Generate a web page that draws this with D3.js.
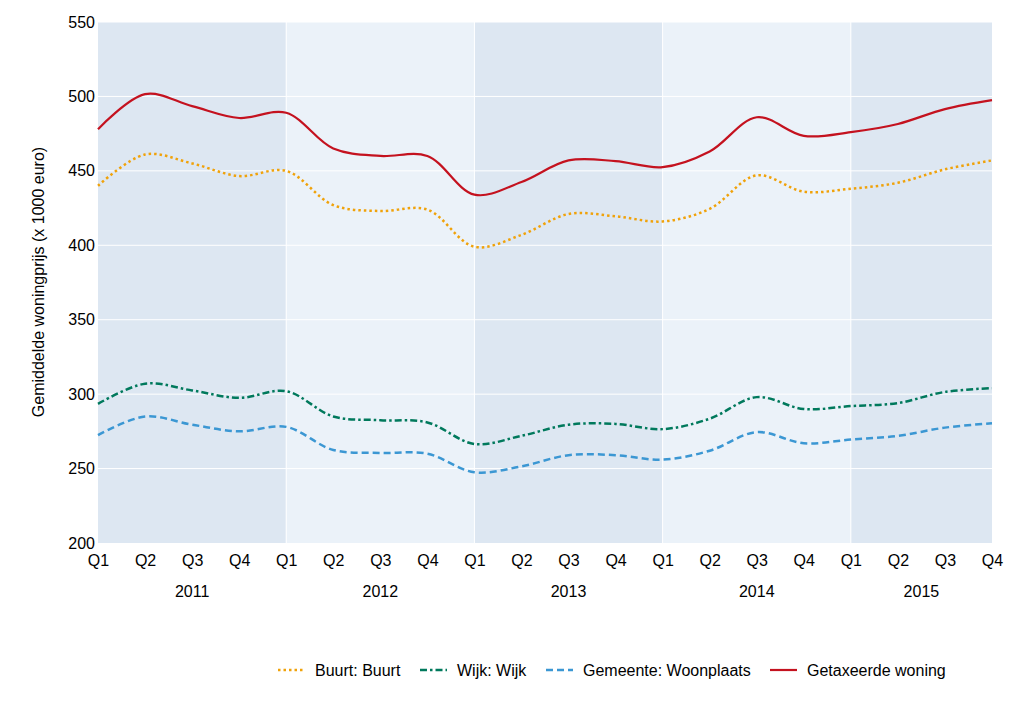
<!DOCTYPE html>
<html><head><meta charset="utf-8">
<script src="https://cdn.jsdelivr.net/npm/d3@7"></script>
<style>body{margin:0;background:#fff}text{font-family:"Liberation Sans",Arial,sans-serif;fill:#000}</style>
</head><body><svg id="c" width="1024" height="708"></svg>
<script>
const years = ["2011","2012","2013","2014","2015"];
const quarters = ["Q1","Q2","Q3","Q4"];
const yTicks = [200,250,300,350,400,450,500,550];
const seriesNames = ["Buurt: Buurt","Wijk: Wijk","Gemeente: Woonplaats","Getaxeerde woning"];
const buurt = [440,461,455,446.5,450,427,423,424,399,407,421,419.5,416,424.5,447,436,438,442,451,457];
const wijk = [293.5,307,302.5,297.5,302,285,282.5,281,266.5,272,279.5,280,276.5,283.5,298,290,292,294,301.5,304];
const gemeente = [272.5,285,279.5,275,278,262.5,260.5,260,247.5,251.5,259,259,256,262,274.5,267,269.5,272,277.5,280.5];
const getaxeerd = [478,501.5,493.5,485.5,489,465,460,460,434,442.5,457,456.5,452.5,463,486,473.5,476,481.5,491.5,497.5];

const FS = "16px";
const svg = d3.select("#c");
const L=98,R=992,T=22,B=543;
const idx = d3.range(years.length*quarters.length);
const x = d3.scaleLinear().domain([0,idx.length-1]).range([L,R]);
const y = d3.scaleLinear().domain([200,550]).range([B,T]);

// year bands
years.forEach((yr,i)=>{
  const x0 = x(i*4), x1 = Math.min(x(i*4+4), R);
  svg.append("rect").attr("x",x0).attr("y",T).attr("width",x1-x0).attr("height",B-T)
    .attr("fill", i%2===0 ? "#dde7f2" : "#ebf2f9");
  svg.append("text").attr("x",(x0+x1)/2).attr("y",597).attr("text-anchor","middle")
    .style("font-size",FS).text(yr);
});
// gridlines
svg.append("g").selectAll("line").data(yTicks.slice(1)).join("line")
  .attr("x1",L).attr("x2",R).attr("y1",d=>y(d)).attr("y2",d=>y(d))
  .attr("stroke","#fff").attr("stroke-width",1);
svg.append("g").selectAll("line").data(years.slice(1)).join("line")
  .attr("x1",(d,i)=>x((i+1)*4)).attr("x2",(d,i)=>x((i+1)*4)).attr("y1",T).attr("y2",B)
  .attr("stroke","#fff").attr("stroke-width",1);

// y axis
const ya = svg.append("g").attr("transform",`translate(${L},0)`)
  .call(d3.axisLeft(y).tickValues(yTicks).tickSize(0).tickPadding(3));
ya.select(".domain").remove();
ya.selectAll("text").style("font-size",FS).style("font-family","Liberation Sans, Arial, sans-serif").attr("fill","#000");
// x axis
const xa = svg.append("g").attr("transform",`translate(0,${B})`)
  .call(d3.axisBottom(x).tickValues(idx).tickFormat(i=>quarters[i%4]).tickSize(0).tickPadding(12));
xa.select(".domain").remove();
xa.selectAll("text").style("font-size",FS).style("font-family","Liberation Sans, Arial, sans-serif").attr("fill","#000");

svg.append("text").attr("transform","translate(44,282) rotate(-90)").attr("text-anchor","middle")
  .style("font-size",FS).text("Gemiddelde woningprijs (x 1000 euro)");

const styles = [
  {data:buurt,color:"#f0a20a",dash:"2.5,3",w:2.5},
  {data:wijk,color:"#00795c",dash:"7,3,2.5,3",w:2.5},
  {data:gemeente,color:"#3b97d3",dash:"7,4",w:2.5},
  {data:getaxeerd,color:"#c4121f",dash:null,w:2.2}
];
const line = d3.line().x((d,i)=>x(i)).y(d=>y(d)).curve(d3.curveCatmullRom.alpha(0.5));
styles.forEach(s=>{
  svg.append("path").attr("d",line(s.data)).attr("fill","none").attr("stroke",s.color)
    .attr("stroke-width",s.w).attr("stroke-dasharray",s.dash);
});

// legend
const legX = [278,420,546,770];
styles.forEach((s,i)=>{
  svg.append("line").attr("x1",legX[i]).attr("x2",legX[i]+27).attr("y1",670).attr("y2",670)
    .attr("stroke",s.color).attr("stroke-width",s.w).attr("stroke-dasharray",s.dash);
  svg.append("text").attr("x",legX[i]+37).attr("y",676).style("font-size",FS).text(seriesNames[i]);
});
</script></body></html>
